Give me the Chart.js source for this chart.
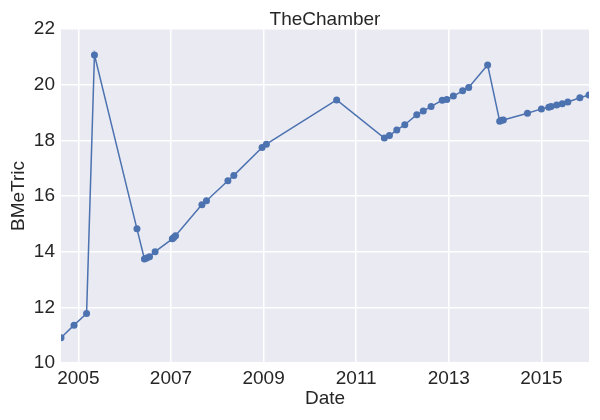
<!DOCTYPE html>
<html lang="en">
<head>
    <meta charset="UTF-8">
    <title>TheChamber</title>
    <style>
        body {
            margin: 0;
            padding: 0;
            background-color: #ffffff;
        }
        #wrap {
            width: 600px;
            height: 420px;
        }
    </style>
    <script src="https://cdn.jsdelivr.net/npm/chart.js"></script>
</head>
<body>
    <div id="wrap"><canvas id="chart"></canvas></div>
    <script>
        const dates = [
            '2004-08-17', '2004-11-28', '2005-03-07', '2005-05-08', '2006-04-08',
            '2006-06-06', '2006-06-24', '2006-07-16', '2006-08-29', '2007-01-12',
            '2007-01-23', '2007-02-06', '2007-09-02', '2007-10-08', '2008-03-25',
            '2008-05-11', '2008-12-20', '2009-01-23', '2010-07-31', '2011-08-11',
            '2011-09-20', '2011-11-17', '2012-01-19', '2012-04-23', '2012-06-13',
            '2012-08-14', '2012-11-10', '2012-12-16', '2013-02-06', '2013-04-20',
            '2013-06-07', '2013-11-03', '2014-02-06', '2014-02-21', '2014-03-07',
            '2014-09-13', '2015-01-01', '2015-02-28', '2015-03-18', '2015-05-01',
            '2015-06-14', '2015-07-28', '2015-10-31', '2016-01-11'
        ];
        const bmetric = [
            10.91, 11.36, 11.78, 21.07, 14.82,
            13.74, 13.77, 13.82, 14.00, 14.46,
            14.51, 14.57, 15.69, 15.83, 16.55,
            16.74, 17.74, 17.86, 19.45, 18.08,
            18.17, 18.37, 18.56, 18.92, 19.05,
            19.22, 19.44, 19.47, 19.59, 19.78,
            19.90, 20.71, 18.69, 18.72, 18.73,
            18.97, 19.13, 19.19, 19.22, 19.27,
            19.31, 19.38, 19.53, 19.63
        ];
        const xTickYears = [2005, 2007, 2009, 2011, 2013, 2015];
        const yTicks = [10, 12, 14, 16, 18, 20, 22];

        // date string -> fractional year, so a linear axis can place it
        const toYear = s => {
            const [y, m, d] = s.split('-').map(Number);
            const start = Date.UTC(y, 0, 1);
            const end = Date.UTC(y + 1, 0, 1);
            return y + (Date.UTC(y, m - 1, d) - start) / (end - start);
        };

        const points = dates.map((d, i) => ({ x: toYear(d), y: bmetric[i] }));
        const xs = points.map(p => p.x);

        const FONT = "'Liberation Sans', Arial, sans-serif";
        const TEXT = '#262626';

        const plotBg = {
            id: 'plotBg',
            beforeDraw(chart) {
                const { ctx, chartArea: a } = chart;
                ctx.save();
                ctx.fillStyle = '#EAEAF2';
                ctx.fillRect(a.left, a.top, a.right - a.left, a.bottom - a.top);
                ctx.restore();
            }
        };

        new Chart(document.getElementById('chart'), {
            type: 'line',
            data: {
                datasets: [{
                    data: points,
                    borderColor: '#4C72B0',
                    backgroundColor: '#4C72B0',
                    borderWidth: 1.5,
                    pointRadius: 3.5,
                    pointBorderWidth: 0,
                    tension: 0,
                    fill: false,
                    clip: 0
                }]
            },
            options: {
                responsive: true,
                maintainAspectRatio: false,
                animation: false,
                layout: { padding: { left: 0, right: 11, top: 0, bottom: 0 } },
                plugins: {
                    legend: { display: false },
                    tooltip: { enabled: false },
                    title: {
                        display: true,
                        text: 'TheChamber',
                        fullSize: false,
                        color: TEXT,
                        font: { family: FONT, size: 19, weight: 'normal', lineHeight: 1.0 },
                        padding: { top: 10, bottom: 0 }
                    }
                },
                scales: {
                    x: {
                        type: 'linear',
                        min: Math.min(...xs),
                        max: Math.max(...xs),
                        grid: { color: '#ffffff', lineWidth: 1.5, drawTicks: false },
                        border: { display: false },
                        afterBuildTicks: s => { s.ticks = xTickYears.map(v => ({ value: v })); },
                        afterFit: s => { s.height = 57; },
                        ticks: {
                            autoSkip: false,
                            maxRotation: 0,
                            padding: 4,
                            color: TEXT,
                            font: { family: FONT, size: 19 },
                            callback: v => String(v)
                        },
                        title: {
                            display: true,
                            text: 'Date',
                            color: TEXT,
                            font: { family: FONT, size: 19 },
                            padding: { top: 0, bottom: 10 }
                        }
                    },
                    y: {
                        min: 10,
                        max: 22,
                        grid: { color: '#ffffff', lineWidth: 1.5, drawTicks: false },
                        border: { display: false },
                        afterBuildTicks: s => { s.ticks = yTicks.map(v => ({ value: v })); },
                        afterFit: s => { s.width = 61; },
                        ticks: {
                            padding: 6,
                            color: TEXT,
                            font: { family: FONT, size: 19 }
                        },
                        title: {
                            display: true,
                            text: 'BMeTric',
                            color: TEXT,
                            font: { family: FONT, size: 19 },
                            padding: { top: 7, bottom: 0 }
                        }
                    }
                }
            },
            plugins: [plotBg]
        });
    </script>
</body>
</html>
